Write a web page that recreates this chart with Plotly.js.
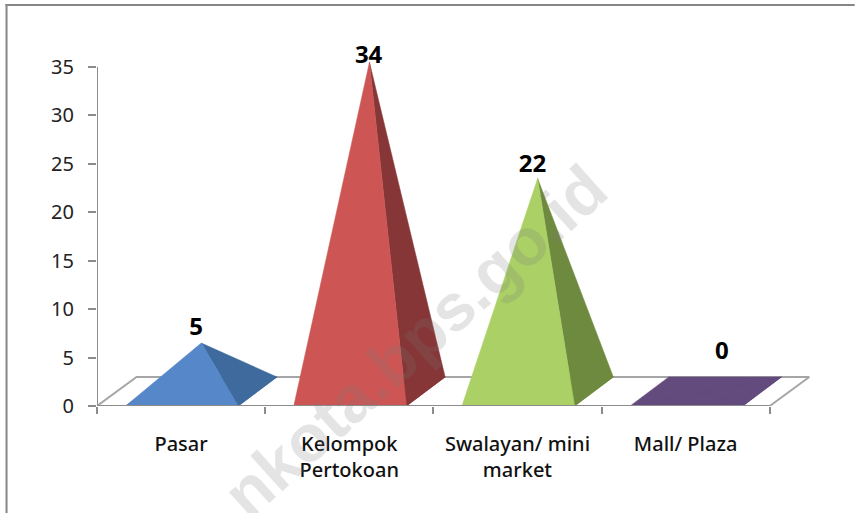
<!DOCTYPE html>
<html>
<head>
<meta charset="utf-8">
<script src="https://cdn.plot.ly/plotly-3.0.1.min.js"></script>
<style>html,body{margin:0;padding:0;background:#fff;overflow:hidden}#c{width:855px;height:513px}</style>
</head>
<body>
<div id="c"></div>
<script>
const categories = ['Pasar', 'Kelompok<br>Pertokoan', 'Swalayan/ mini<br>market', 'Mall/ Plaza'];
const values = [5, 34, 22, 0];
const labelLift = [2.9, 2.0, 2.8, 5.5];
const labelShift = [-0.03, -0.005, -0.03, 0.095];
const frontColors = ['#5587C9', '#CD5654', '#ABD066', '#634B7E'];
const sideColors = ['#3F6A9E', '#863636', '#6E8A3F', '#634B7E'];
const yTicks = [0, 5, 10, 15, 20, 25, 30, 35];
const xBoundaries = [0, 1, 2, 3, 4];
const xCenters = [0.5, 1.5, 2.5, 3.5];

const W = 855, H = 513, L = 97, B = 406;
const unitX = 168.25, unitY = 9.686;
const xMax = 4.4, yMax = 38;
const R = L + xMax * unitX, T = B - yMax * unitY;
const GREY = '#8c8c8c';
const pad = 0.17, baseW = 0.67, depthX = 0.23, depthY = 3.0, floorX = 0.235;
const px = p => (p - L) / (R - L);
const py = p => (B - p) / (B - T);

const poly = (x, y, fill, line) => ({
  type: 'scatter', mode: 'lines', x, y, fill: 'toself', fillcolor: fill,
  line: {color: line || fill, width: line ? 2 : 0.5}, cliponaxis: false,
  hoverinfo: 'skip', showlegend: false
});
const axisLine = (x, y) => ({
  type: 'scatter', mode: 'lines', x, y, line: {color: GREY, width: 2},
  cliponaxis: false, hoverinfo: 'skip', showlegend: false
});

const traces = [];
traces.push(poly([0, floorX, 4 + floorX, 4, 0], [0, depthY, depthY, 0, 0], '#ffffff', '#a6a6a6'));
traces.push(axisLine([0, 0], [0, 35]));
values.forEach((v, i) => {
  const x0 = i + pad, x1 = x0 + baseW;
  const ax = x0 + (baseW + depthX) / 2, ay = v + depthY / 2;
  traces.push(poly([x0, x1, x1 + depthX, x0 + depthX, x0], [0, 0, depthY, depthY, 0], sideColors[i]));
  traces.push(poly([x1, x1 + depthX, ax, x1], [0, depthY, ay, 0], sideColors[i]));
  traces.push(poly([x0, x1, ax, x0], [0, 0, ay, 0], frontColors[i]));
});
traces.push(axisLine([0, 4], [0, 0]));
traces.push({
  type: 'scatter', mode: 'text', xaxis: 'x2', yaxis: 'y',
  x: values.map((v, i) => i + pad + (baseW + depthX) / 2 + labelShift[i]),
  y: values.map((v, i) => v + labelLift[i]),
  text: values.map(String), textposition: 'middle center',
  textfont: {family: 'Noto Sans', size: 24, weight: 700, color: '#000'},
  cliponaxis: false, hoverinfo: 'skip', showlegend: false
});

const layout = {
  width: W, height: H, autosize: false,
  margin: {l: L, r: W - R, t: T, b: H - B, pad: 0},
  paper_bgcolor: '#fff', plot_bgcolor: 'rgba(0,0,0,0)', showlegend: false,
  xaxis: {
    range: [0, xMax], tickmode: 'array', tickvals: xBoundaries, ticktext: xBoundaries.map(() => ''),
    ticks: 'outside', ticklen: 7, tickwidth: 2, tickcolor: GREY, showgrid: false, zeroline: false,
    showline: false
  },
  xaxis2: {
    overlaying: 'x', anchor: 'y', side: 'bottom', range: [0, xMax], tickmode: 'array',
    tickvals: xCenters, ticktext: categories, ticks: '', showgrid: false, zeroline: false, showline: false,
    ticklabelstandoff: 24,
    tickfont: {family: 'Noto Sans', size: 20, weight: 500, color: '#111'}
  },
  yaxis: {
    range: [0, yMax], tickmode: 'array', tickvals: yTicks, ticks: 'outside', ticklen: 8, tickwidth: 2,
    tickcolor: GREY, showgrid: false, zeroline: false, showline: false,
    ticklabelstandoff: 10,
    tickfont: {family: 'Noto Sans', size: 20, color: '#222'}
  },
  shapes: [
    {type: 'line', xref: 'paper', yref: 'paper', x0: px(6.5), x1: px(6.5), y0: py(4), y1: py(H), line: {color: '#868686', width: 2}},
    {type: 'line', xref: 'paper', yref: 'paper', x0: px(5.5), x1: px(W), y0: py(5), y1: py(5), line: {color: '#868686', width: 2}}
  ],
  annotations: [{
    text: 'nkota.bps.go.id', xref: 'paper', yref: 'paper', x: px(415), y: py(341),
    xanchor: 'center', yanchor: 'middle', showarrow: false, textangle: -42,
    font: {family: 'Liberation Sans', size: 66, weight: 700, color: 'rgba(120,120,120,0.2)'}
  }]
};

Plotly.newPlot('c', traces, layout, {staticPlot: true, displayModeBar: false});
</script>
</body>
</html>
